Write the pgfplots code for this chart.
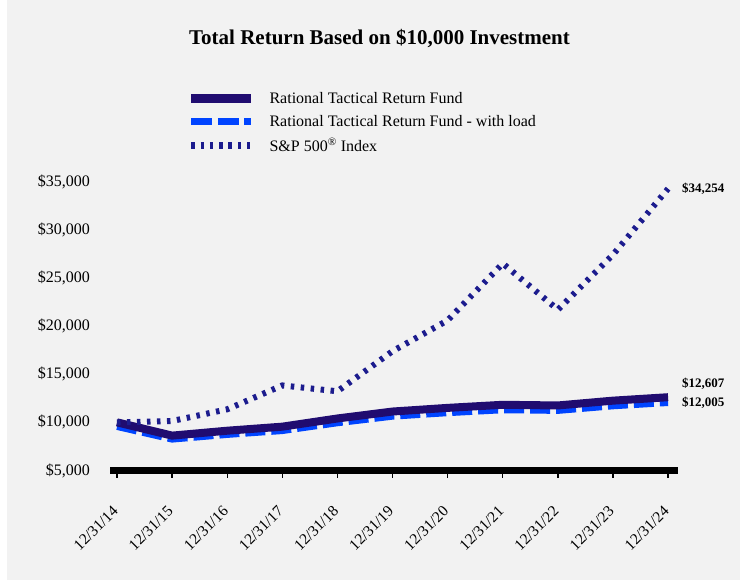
\documentclass[border=0pt]{standalone}
\usepackage{fontspec}
\setmainfont{Liberation Serif}
\usepackage{pgfplots}
\pgfplotsset{compat=1.18}
\definecolor{fundc}{HTML}{200C70}
\definecolor{loadc}{HTML}{0044FF}
\definecolor{spc}{HTML}{1C1C8E}
\definecolor{bgc}{HTML}{F2F2F2}
\begin{document}
\begin{tikzpicture}[x=1pt,y=1pt]
\fill[white] (0,0) rectangle (740,580);
\fill[bgc] (7,0) rectangle (740,580);
\useasboundingbox (0,0) rectangle (740,580);
\node[font=\bfseries\fontsize{21}{25}\selectfont, anchor=base] at (379.5,535) {Total Return Based on \$10,000 Investment};
\begin{axis}[
  at={(110pt,109.5pt)}, anchor=south west,
  scale only axis, width=568pt, height=289pt,
  xmin=-0.127, xmax=10.18, ymin=5000, ymax=35000,
  scaled y ticks=false,
  axis x line*=bottom, axis y line*=left,
  x axis line style={line width=7pt, black, -},
  y axis line style={draw=none},
  xtick={0,...,10},
  xticklabels={12/31/14,12/31/15,12/31/16,12/31/17,12/31/18,12/31/19,12/31/20,12/31/21,12/31/22,12/31/23,12/31/24},
  ytick={5000,10000,15000,20000,25000,30000,35000},
  yticklabels={{\$5,000},{\$10,000},{\$15,000},{\$20,000},{\$25,000},{\$30,000},{\$35,000}},
  tick align=outside, major tick length=7.5pt,
  x tick style={line width=1.3pt, black},
  y tick style={draw=none},
  yticklabel style={font=\fontsize{16}{19}\selectfont, anchor=east, xshift=-9pt},
  xticklabel shift=29pt,
  xticklabel style={font=\fontsize{15.5}{18}\selectfont, rotate=45, anchor=east, xshift=1pt},
  clip=false,
  legend cell align=left,
  legend style={at={(0.130,1.317)}, anchor=north west, draw=none, fill=none,
    font=\fontsize{16}{19}\selectfont, row sep=10.3pt, column sep=14pt,
    nodes={inner sep=0pt}},
  legend image code/.code={\draw[#1] (0pt,0pt) -- (60pt,0pt);},
]
\addlegendimage{fundc, line width=8.5pt}
\addlegendentry{Rational Tactical Return Fund}
\addlegendimage{loadc, line width=6.7pt, dash pattern=on 21pt off 5.5pt}
\addlegendentry{Rational Tactical Return Fund - with load}
\addlegendimage{spc, line width=6.7pt, dash pattern=on 3.4pt off 5.9pt}
\addlegendentry{S\&P 500\textsuperscript{\textregistered} Index}

\addplot[forget plot, loadc, line width=6pt, dash pattern=on 20pt off 6pt] coordinates {
(0,9522)(1,8208)(2,8694)(3,9094)(4,9903)(5,10588)(6,10950)(7,11255)(8,11188)(9,11664)(10,12005)};
\addplot[forget plot, fundc, line width=8pt] coordinates {
(0,10000)(1,8620)(2,9130)(3,9550)(4,10400)(5,11120)(6,11500)(7,11820)(8,11750)(9,12250)(10,12607)};
\addplot[forget plot, spc, line width=6pt, dash pattern=on 3.5pt off 6.5pt] coordinates {
(0,10000)(1,10138)(2,11351)(3,13829)(4,13223)(5,17386)(6,20585)(7,26494)(8,21696)(9,27399)(10,34254)};

\node[anchor=west, font=\bfseries\fontsize{13}{15}\selectfont, xshift=10.5pt] at (axis cs:10,34254) {\$34,254};
\node[anchor=west, font=\bfseries\fontsize{13}{15}\selectfont, xshift=10.5pt, yshift=13.5pt] at (axis cs:10,12607) {\$12,607};
\node[anchor=west, font=\bfseries\fontsize{13}{15}\selectfont, xshift=10.5pt] at (axis cs:10,12005) {\$12,005};
\end{axis}
\end{tikzpicture}
\end{document}
